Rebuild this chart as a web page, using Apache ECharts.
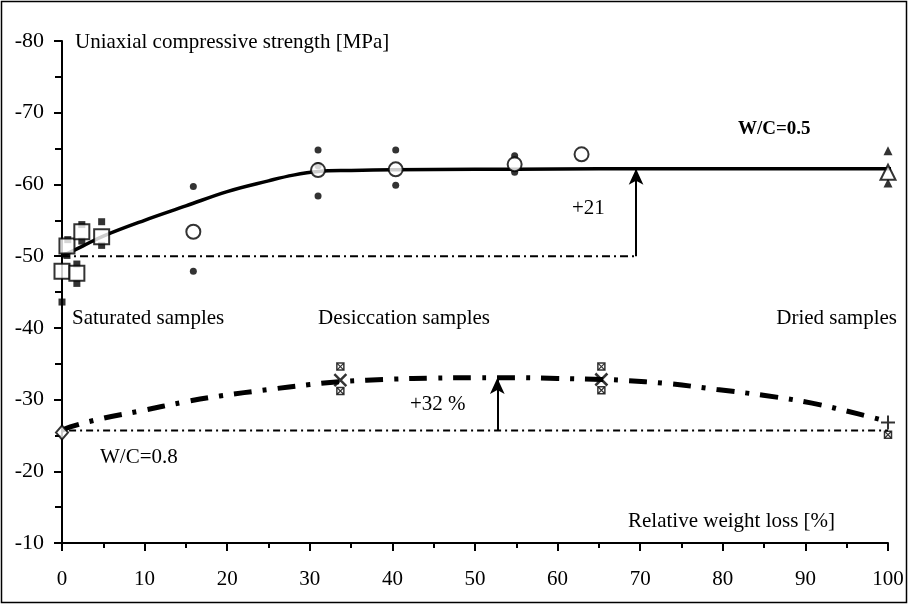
<!DOCTYPE html>
<html>
<head>
<meta charset="utf-8">
<script src="https://cdn.jsdelivr.net/npm/echarts@6/dist/echarts.min.js"></script>
<style>
html,body{margin:0;padding:0;background:#fff;}
#c{width:909px;height:605px;}
</style>
</head>
<body>
<div id="c"></div>
<script>
// ---- data ----
const xTicks = [0,10,20,30,40,50,60,70,80,90,100];
const yTicks = [-80,-70,-60,-50,-40,-30,-20,-10];

// W/C = 0.5
const saturatedMean = [[0.6,-51.4],[0,-47.9],[1.8,-47.6],[2.4,-53.4],[4.8,-52.7]];
const saturatedIndiv = [[0,-43.6],[0.7,-52.3],[0.6,-50.1],[1.8,-48.9],[1.8,-46.2],[2.4,-54.4],[2.4,-52.1],[4.8,-54.8],[4.8,-51.5]];
const desiccMean = [[15.9,-53.4],[31.0,-62.0],[40.4,-62.1],[54.8,-62.8],[62.9,-64.2]];
const desiccIndiv = [[15.9,-59.7],[15.9,-47.9],[31.0,-64.8],[31.0,-58.4],[31.0,-62.6],[40.4,-64.8],[40.4,-59.9],[54.8,-64.0],[54.8,-61.7]];
const driedMean = [[100,-61.7]];
const driedIndiv = [[100,-64.7],[100,-60.2]];
const fit05 = [[0,-50.0],[2.5,-51.4],[5,-52.8],[10,-55.0],[15,-57.0],[20,-59.0],[25,-60.5],[28,-61.3],[31,-61.8],[35,-61.95],[40,-62.05],[50,-62.1],[60,-62.15],[70,-62.2],[80,-62.2],[90,-62.2],[100,-62.2],[101.7,-62.2]];
const base05 = [[0,-50.0],[69.5,-50.0]];
const arrow05 = [[69.5,-50.0],[69.5,-62.2]];

// W/C = 0.8
const wc08Start = [[0,-25.4]];
const wc08Mean = [[33.7,-32.7],[65.3,-32.8]];
const wc08Indiv = [[33.7,-34.6],[33.7,-31.2],[65.3,-34.6],[65.3,-31.3],[100,-25.1]];
const wc08End = [[100,-26.8]];
const fit08 = [[0,-25.7],[1,-26.2],[5,-27.4],[9.4,-28.4],[15,-29.7],[19.1,-30.5],[25,-31.4],[30,-32.1],[33.7,-32.5],[40,-32.85],[45,-33.0],[50,-33.05],[55,-33.05],[60,-32.95],[65.3,-32.8],[67.6,-32.7],[73.6,-32.2],[79.3,-31.4],[84.9,-30.6],[90.8,-29.5],[96.4,-28.0],[99.8,-27.0]];
const base08 = [[-1.2,-25.7],[100,-25.7]];
const arrow08 = [[52.7,-25.7],[52.7,-33.0]];

const FONT = 'Liberation Serif';
const chart = echarts.init(document.getElementById('c'), null, {renderer:'canvas'});

const crossPath = 'path://M0,0L10,10M10,0L0,10';
const plusPath = 'path://M5,0L5,10M0,5L10,5';
const boxXPath = 'path://M0,0L10,0L10,10L0,10Z';

function text(x, y, str, opts) {
  return {
    type:'text', x:x, y:y, z:100,
    style:Object.assign({text:str, font:'21px "' + FONT + '"', fill:'#000', textVerticalAlign:'middle'}, opts||{})
  };
}

const option = {
  animation:false,
  backgroundColor:'#fff',
  grid:{left:62, right:21, top:41, bottom:62, containLabel:false},
  xAxis:{
    type:'value', min:0, max:100, interval:10,
    axisLine:{onZero:false, lineStyle:{color:'#000', width:2}},
    axisTick:{show:true, length:8, lineStyle:{color:'#000', width:2}},
    minorTick:{show:true, splitNumber:2, length:5, lineStyle:{color:'#000', width:2}},
    splitLine:{show:false},
    axisLabel:{color:'#000', fontFamily:FONT, fontSize:21, margin:26,
      formatter:function(v){return xTicks.indexOf(v)>=0?String(v):'';}}
  },
  yAxis:{
    type:'value', min:-80, max:-10, interval:10, inverse:true,
    axisLine:{onZero:false, lineStyle:{color:'#000', width:2}},
    axisTick:{show:true, length:8, lineStyle:{color:'#000', width:2}},
    minorTick:{show:true, splitNumber:2, length:7, lineStyle:{color:'#000', width:2}},
    splitLine:{show:false},
    axisLabel:{color:'#000', fontFamily:FONT, fontSize:22, margin:18,
      formatter:function(v){return yTicks.indexOf(v)>=0?String(v):'';}}
  },
  graphic:[
    {type:'rect', shape:{x:1.5, y:1.5, width:905, height:601}, style:{fill:'none', stroke:'#000', lineWidth:1.5}, z:100},
    text(75, 42, 'Uniaxial compressive strength [MPa]'),
    text(738, 129, 'W/C=0.5', {font:'bold 19px "' + FONT + '"'}),
    text(72, 318, 'Saturated samples'),
    text(318, 318, 'Desiccation samples'),
    text(897, 318, 'Dried samples', {textAlign:'right'}),
    text(572, 208, '+21'),
    text(410, 404, '+32 %'),
    text(100, 457, 'W/C=0.8'),
    text(628, 521, 'Relative weight loss [%]')
  ],
  series:[
    {type:'line', data:base05, symbol:'none', silent:true, z:2,
      lineStyle:{color:'#000', width:2, type:[8,4,2,4]},
      markLine:{silent:true, symbol:['none','arrow'], symbolSize:[11,16], label:{show:false},
        lineStyle:{color:'#000', width:2, type:'solid'},
        data:[[{coord:arrow05[0]},{coord:arrow05[1]}]]}},
    {type:'line', data:base08, symbol:'none', silent:true, z:2, clip:false,
      lineStyle:{color:'#000', width:2, type:[7,4,2,4]},
      markLine:{silent:true, symbol:['none','arrow'], symbolSize:[11,16], label:{show:false},
        lineStyle:{color:'#000', width:2, type:'solid'},
        data:[[{coord:arrow08[0]},{coord:arrow08[1]}]]}},
    {type:'line', data:fit05, symbol:'none', smooth:0.4, silent:true, z:3, clip:false,
      lineStyle:{color:'#000', width:3.5}},
    {type:'line', data:fit08, symbol:'none', smooth:0.4, silent:true, z:3,
      lineStyle:{color:'#000', width:5, type:[18,11,4,11]}},
    {type:'scatter', data:saturatedIndiv, symbol:'rect', symbolSize:7, z:4, itemStyle:{color:'#000'}},
    {type:'scatter', data:desiccIndiv, symbol:'circle', symbolSize:7, z:4, itemStyle:{color:'#000'}},
    {type:'scatter', data:driedIndiv, symbol:'triangle', symbolSize:9, z:4, itemStyle:{color:'#000'}},
    {type:'scatter', data:saturatedMean, symbol:'rect', symbolSize:15, z:5, itemStyle:{color:'#fff', borderColor:'#000', borderWidth:2}},
    {type:'scatter', data:desiccMean, symbol:'circle', symbolSize:14, z:5, itemStyle:{color:'#fff', borderColor:'#000', borderWidth:2}},
    {type:'scatter', data:driedMean, symbol:'triangle', symbolSize:15, z:5, itemStyle:{color:'#fff', borderColor:'#000', borderWidth:2}},
    {type:'scatter', data:wc08Start, symbol:'diamond', symbolSize:[12,14], z:5, clip:false, itemStyle:{color:'#fff', borderColor:'#000', borderWidth:2}},
    {type:'scatter', data:wc08Indiv, symbol:boxXPath, symbolSize:7, z:5, itemStyle:{color:'#fff', borderColor:'#000', borderWidth:1.5}},
    {type:'scatter', data:wc08Indiv, symbol:crossPath, symbolSize:6, z:6, itemStyle:{color:'none', borderColor:'#000', borderWidth:1.2}},
    {type:'scatter', data:wc08Mean, symbol:crossPath, symbolSize:12, z:6, itemStyle:{color:'none', borderColor:'#000', borderWidth:2.5}},
    {type:'scatter', data:wc08End, symbol:plusPath, symbolSize:14, z:6, clip:false, itemStyle:{color:'none', borderColor:'#000', borderWidth:2}}
  ]
};
chart.setOption(option);
</script>
</body>
</html>
